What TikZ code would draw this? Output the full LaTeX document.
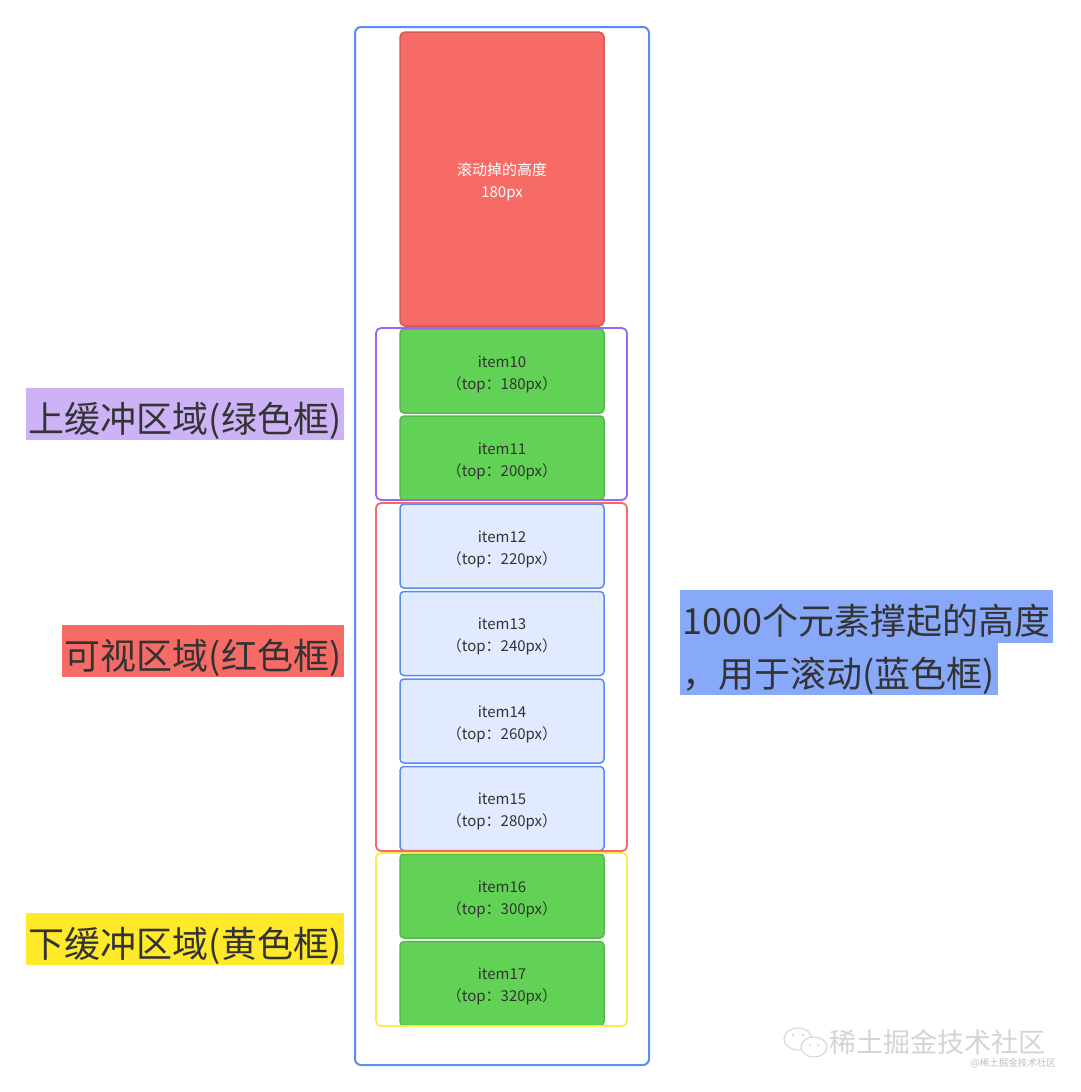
\documentclass[tikz,border=0pt]{standalone}
\usepackage{fontspec}
\setmainfont{Noto Sans CJK SC}
\definecolor{blueS}{HTML}{5A8CF6}
\definecolor{purpleS}{HTML}{9A66F5}
\definecolor{redS}{HTML}{F56A66}
\definecolor{yellowS}{HTML}{FFE94D}
\definecolor{greenF}{HTML}{62D256}
\definecolor{greenS}{HTML}{56B94C}
\definecolor{redF}{HTML}{F76B66}
\definecolor{redD}{HTML}{D65A55}
\definecolor{itemF}{HTML}{E1EAFE}
\definecolor{lavF}{HTML}{CDB3F6}
\definecolor{yelF}{HTML}{FFE92B}
\definecolor{rbF}{HTML}{88A9FA}
\definecolor{txt}{HTML}{333333}
\definecolor{wm}{HTML}{D4D4D4}
\tikzset{
  boxbase/.style={rounded corners=4pt, line width=1.5pt, minimum width=204pt, minimum height=84pt, inner sep=0pt},
  greenitem/.style={boxbase, fill=greenF, draw=greenS},
  blueitem/.style={boxbase, fill=itemF, draw=blueS},
  itemtext/.style={align=center, inner sep=0pt, font=\fontsize{15}{22}\selectfont, text=txt},
  frame/.style={rounded corners=5pt, line width=1.8pt, minimum width=251pt, inner sep=0pt},
  biglabel/.style={font=\fontsize{36}{52}\selectfont, text=txt, inner xsep=2.5pt, inner ysep=0pt, text height=37pt, text depth=1pt, minimum height=52pt}
}
\begin{document}
\begin{tikzpicture}[x=1pt,y=-1pt]
\useasboundingbox (0,0) rectangle (1080,1092);
\fill[white] (0,0) rectangle (1080,1092);

% outer blue frame
\node[draw=blueS, line width=2pt, rounded corners=6pt, minimum width=294pt, minimum height=1038pt, inner sep=0pt] (outer) at (502,546) {};

% scrolled-away height
\node[rounded corners=5pt, line width=1.5pt, fill=redF, draw=redD, minimum width=204pt, minimum height=294pt, inner sep=0pt] (scrolled) at (502,179) {};
\node[itemtext, text=white] (scrolledtext) at ([yshift=-3pt]scrolled.center) {滚动掉的高度\\180px};

% items
\node[greenitem] (i10) at (502,371) {};
\node[greenitem] (i11) at (502,458) {};
\node[blueitem]  (i12) at (502,546) {};
\node[blueitem]  (i13) at (502,633.5) {};
\node[blueitem]  (i14) at (502,721) {};
\node[blueitem]  (i15) at (502,808.5) {};
\node[greenitem] (i16) at (502,896) {};
\node[greenitem] (i17) at (502,983.5) {};
\node[itemtext] (t10) at ([yshift=-3pt]i10.center) {item10\\（top：180px）};
\node[itemtext] (t11) at ([yshift=-3pt]i11.center) {item11\\（top：200px）};
\node[itemtext] (t12) at ([yshift=-3pt]i12.center) {item12\\（top：220px）};
\node[itemtext] (t13) at ([yshift=-3pt]i13.center) {item13\\（top：240px）};
\node[itemtext] (t14) at ([yshift=-3pt]i14.center) {item14\\（top：260px）};
\node[itemtext] (t15) at ([yshift=-3pt]i15.center) {item15\\（top：280px）};
\node[itemtext] (t16) at ([yshift=-3pt]i16.center) {item16\\（top：300px）};
\node[itemtext] (t17) at ([yshift=-3pt]i17.center) {item17\\（top：320px）};

% frames
\node[frame, draw=purpleS, minimum height=172pt] (upper) at (501.5,414) {};
\node[frame, draw=redS, minimum height=348pt] (visible) at (501.5,677) {};
\node[frame, draw=yellowS, minimum height=173pt] (lower) at (501.5,939.5) {};

% labels
\node[biglabel, fill=lavF, anchor=east] (lup) at (344,414) {上缓冲区域(绿色框)};
\node[biglabel, fill=redF, anchor=east] (lvis) at (344,651) {可视区域(红色框)};
\node[biglabel, fill=yelF, anchor=east] (llow) at (344,939) {下缓冲区域(黄色框)};
\node[biglabel, fill=rbF, anchor=west, minimum height=53pt] (r1) at (680,616.5) {1000个元素撑起的高度};
\node[biglabel, fill=rbF, anchor=west] (r2) at (680,669) {，用于滚动(蓝色框)};

% watermark
\draw[wm, line width=1pt, fill=white] (798,1039) ellipse [x radius=14pt, y radius=11pt];
\draw[wm, line width=1pt, fill=white] (814,1047) ellipse [x radius=13pt, y radius=10pt];
\fill[wm] (793,1035) circle (1.3pt) (803,1035) circle (1.3pt) (810,1045) circle (1.2pt) (818,1045) circle (1.2pt);
\node[text=wm, font=\fontsize{27}{30}\selectfont, inner sep=0pt, anchor=west] (wm1) at (829,1042) {稀土掘金技术社区};
\node[text=wm!90!black, font=\fontsize{9.5}{11}\selectfont, inner sep=0pt, anchor=east] (wm2) at (1056,1063) {@稀土掘金技术社区};
\end{tikzpicture}
\end{document}
